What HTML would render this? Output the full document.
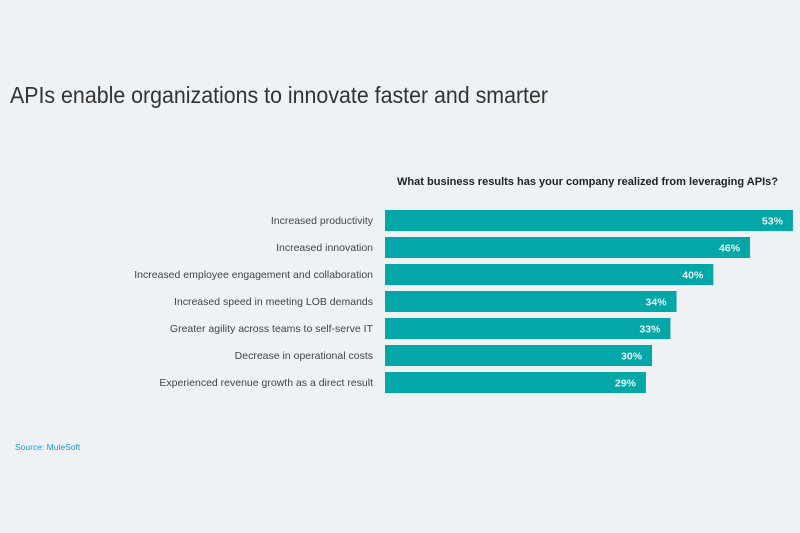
<!DOCTYPE html>
<html><head><meta charset="utf-8"><style>
html,body{margin:0;padding:0;background:#eef2f5;}
svg{display:block;font-family:"Liberation Sans",sans-serif;}
</style></head><body>
<svg width="800" height="533" viewBox="0 0 800 533">
<rect width="800" height="533" fill="#eef2f5"/>
<text x="10" y="103" font-size="23" fill="#333" textLength="538" lengthAdjust="spacingAndGlyphs">APIs enable organizations to innovate faster and smarter</text>
<text x="397" y="185" font-size="11" font-weight="bold" fill="#222" textLength="381" lengthAdjust="spacingAndGlyphs">What business results has your company realized from leveraging APIs?</text>
<g id="bars"></g>
<text x="15" y="450" font-size="8.5" fill="#1a9ad6">Source: MuleSoft</text>
</svg>
<script>
const categories=["Increased productivity","Increased innovation","Increased employee engagement and collaboration","Increased speed in meeting LOB demands","Greater agility across teams to self-serve IT","Decrease in operational costs","Experienced revenue growth as a direct result"];
const values=[53,46,40,34,33,30,29];
const valueLabels=["53%","46%","40%","34%","33%","30%","29%"];
const NS="http://www.w3.org/2000/svg";
const x0=385, xmin=-13.6, pxPer=6.125;
function xScale(v){return x0+(v-xmin)*pxPer;}
function yScale(i){return 210+i*27;}
const g=document.getElementById('bars');
categories.forEach((c,i)=>{
  const y=yScale(i);
  const r=document.createElementNS(NS,'rect');
  
  
  r.setAttribute('x',x0);r.setAttribute('y',y);
  r.setAttribute('width',xScale(values[i])-x0);r.setAttribute('height',21);
  r.setAttribute('fill','#03a7a8');
  g.appendChild(r);
  const t=document.createElementNS(NS,'text');
  
  
  t.setAttribute('x',373);t.setAttribute('y',y+14);
  t.setAttribute('text-anchor','end');t.setAttribute('font-size','10.5');t.setAttribute('fill','#444');
  t.textContent=c;g.appendChild(t);
  const v=document.createElementNS(NS,'text');
  
  
  v.setAttribute('x',xScale(values[i])-10);v.setAttribute('y',y+14.5);
  v.setAttribute('text-anchor','end');v.setAttribute('font-size','10.5');v.setAttribute('font-weight','bold');v.setAttribute('fill','#e8f6f6');
  v.textContent=valueLabels[i];g.appendChild(v);
});
</script>
</body></html>
